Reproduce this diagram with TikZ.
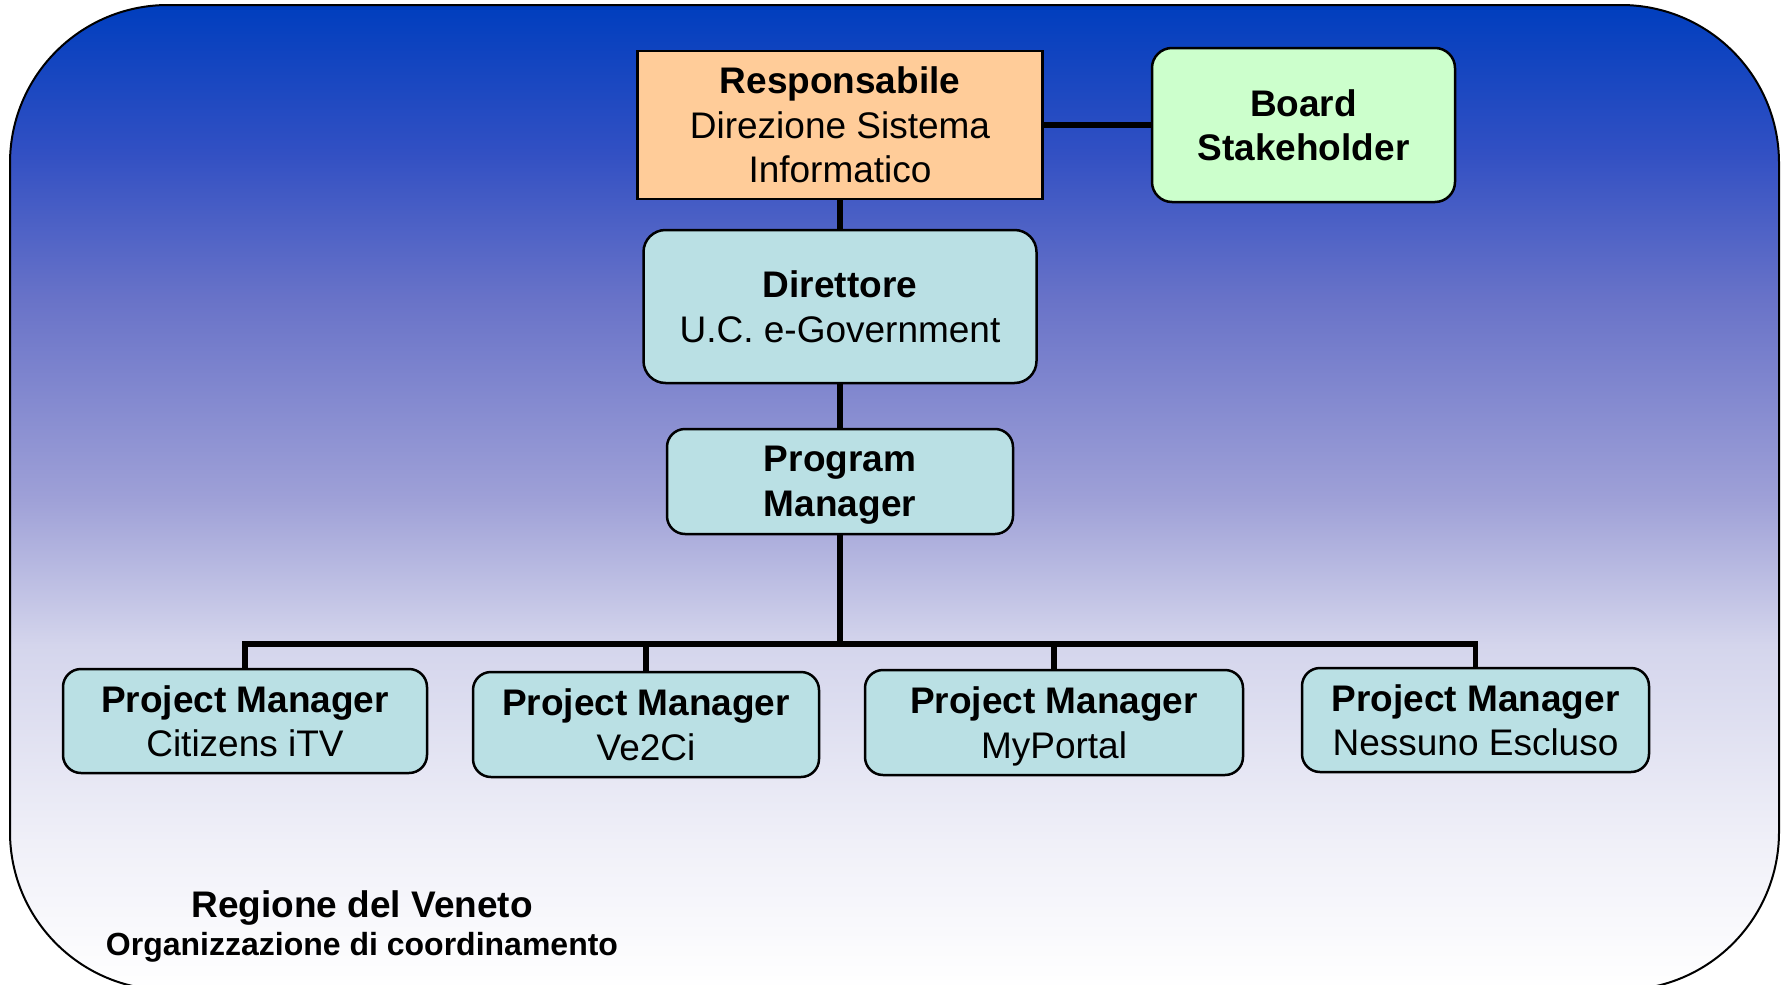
\documentclass[tikz,border=0pt]{standalone}
\usepackage{fontspec}
\setmainfont{Liberation Sans}
\definecolor{gA}{RGB}{0,62,190}
\definecolor{gB}{RGB}{50,80,195}
\definecolor{gC}{RGB}{105,115,200}
\definecolor{gD}{RGB}{158,160,215}
\definecolor{gE}{RGB}{212,213,236}
\definecolor{gF}{RGB}{240,240,248}
\definecolor{orangebox}{RGB}{255,204,153}
\definecolor{greenbox}{RGB}{204,255,204}
\definecolor{tealbox}{RGB}{186,224,228}
\pgfdeclareverticalshading{bgshade}{100bp}{color(0bp)=(white); color(25bp)=(white); color(32.5bp)=(gF); color(42.5bp)=(gE); color(50bp)=(gD); color(60bp)=(gC); color(67.5bp)=(gB); color(75bp)=(gA); color(100bp)=(gA)}
\tikzset{
  box/.style={draw=black, line width=2.5pt, inner sep=0pt, align=center, text=black,
    text depth=0pt, font=\fontsize{37}{44.5}\selectfont},
  rbox/.style={box, rounded corners=18pt, fill=tealbox},
  conn/.style={draw=black, line width=5.5pt},
  foot/.style={anchor=base, inner sep=0pt, text=black}
}
\begin{document}
\begin{tikzpicture}[x=1pt,y=-1pt]
\useasboundingbox (0,0) rectangle (1786,985);
\path[shade, shading=bgshade, draw=black, line width=2pt, rounded corners=158pt] (10,5) rectangle (1779,990);

\node[box, fill=orangebox, minimum width=405pt, minimum height=148pt] (resp) at (840,125)
  {\textbf{Responsabile}\\Direzione Sistema\\Informatico};
\node[box, rounded corners=20pt, fill=greenbox, minimum width=303pt, minimum height=154pt] (board) at (1303.5,125)
  {\textbf{Board}\\\textbf{Stakeholder}};
\node[rbox, rounded corners=22pt, minimum width=393pt, minimum height=153pt] (dir) at (840,306.5)
  {\textbf{Direttore}\\U.C. e-Government};
\node[rbox, minimum width=346pt, minimum height=105pt] (pm) at (840,481.5)
  {\textbf{Program}\\\textbf{Manager}};

\node[rbox, minimum width=364pt, minimum height=104pt] (pm1) at (245,721)
  {\textbf{Project Manager}\\Citizens iTV};
\node[rbox, minimum width=346pt, minimum height=105pt] (pm2) at (646,724.5)
  {\textbf{Project Manager}\\Ve2Ci};
\node[rbox, minimum width=378pt, minimum height=105pt] (pm3) at (1054,722.5)
  {\textbf{Project Manager}\\MyPortal};
\node[rbox, minimum width=347pt, minimum height=104pt] (pm4) at (1475.5,720)
  {\textbf{Project Manager}\\Nessuno Escluso};

\coordinate (bus) at (840,644);
\draw[conn] (resp.east) -- (board.west);
\draw[conn] (resp.south) -- (dir.north);
\draw[conn] (dir.south) -- (pm.north);
\draw[conn] (pm.south) -- (bus);
\draw[conn] (pm1.north) |- (bus);
\draw[conn] (pm2.north) |- (bus);
\draw[conn] (pm3.north) |- (bus);
\draw[conn] (pm4.north) |- (bus);

\node[foot, font=\bfseries\fontsize{37}{40}\selectfont] (reg) at (362,917) {Regione del Veneto};
\node[foot, font=\bfseries\fontsize{32}{34}\selectfont] (org) at (362,955) {Organizzazione di coordinamento};
\end{tikzpicture}
\end{document}
